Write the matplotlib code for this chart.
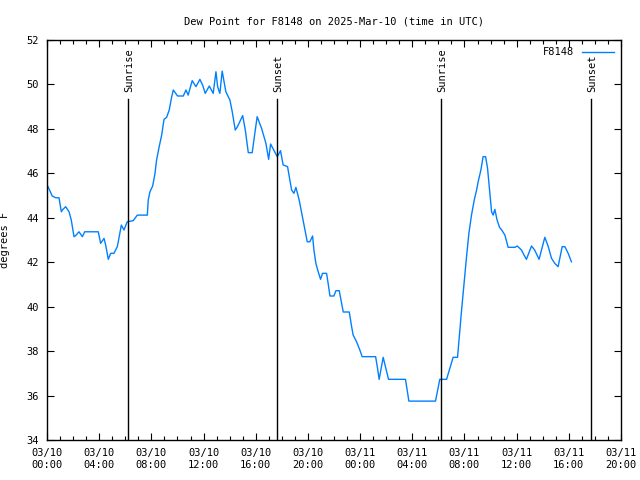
import matplotlib
matplotlib.use('Agg')
import matplotlib.pyplot as plt

# Dew point readings for F8148, hours since 2025-03-10 00:00 UTC
hours = [0.08, 0.40, 0.67, 0.92, 1.10, 1.18, 1.43, 1.69, 1.86, 2.07, 2.20, 2.45, 2.71, 2.89,
         3.93, 4.11, 4.37, 4.50, 4.70, 4.88, 5.13, 5.39, 5.70, 5.90, 6.15, 6.61, 6.92, 7.69,
         7.76, 7.89, 8.10, 8.28, 8.40, 8.60, 8.79, 8.97, 9.17, 9.37, 9.56, 9.68, 10.01, 10.45,
         10.65, 10.82, 11.13, 11.42, 11.72, 11.93, 12.13, 12.44, 12.74, 12.95, 13.08, 13.25,
         13.43, 13.71, 14.02, 14.20, 14.43, 14.60, 15.00, 15.20, 15.43, 15.73, 15.86, 16.11,
         16.45, 16.78, 16.99, 17.14, 17.65, 17.90, 18.10, 18.44, 18.75, 18.93, 19.08, 19.33,
         19.77, 19.95, 20.15, 20.36, 20.46, 20.61, 20.79, 20.97, 21.12, 21.43, 21.55, 21.69,
         21.99, 22.15, 22.40, 22.58, 22.71, 23.17, 23.35, 23.47, 23.73, 23.98, 24.16, 25.19,
         25.34, 25.46, 25.77, 25.98, 26.18, 27.48, 27.74, 29.78, 30.11, 30.63, 31.13, 31.47,
         31.57, 31.78, 31.98, 32.16, 32.34, 32.54, 32.75, 32.93, 33.05, 33.26, 33.43, 33.62,
         33.77, 33.95, 34.08, 34.20, 34.33, 34.50, 34.69, 34.89, 35.10, 35.35, 35.87, 36.05,
         36.37, 36.57, 36.75, 37.14, 37.38, 37.72, 38.16, 38.41, 38.67, 38.92, 39.18, 39.31,
         39.49, 39.70, 39.95, 40.20]
dewpoint = [45.40, 44.98, 44.90, 44.90, 44.27, 44.35, 44.50, 44.27, 43.90, 43.15, 43.20, 43.37,
            43.15, 43.37, 43.37, 42.85, 43.07, 42.77, 42.13, 42.40, 42.40, 42.70, 43.67, 43.45,
            43.82, 43.87, 44.12, 44.12, 44.80, 45.17, 45.43, 46.00, 46.60, 47.20, 47.72, 48.43,
            48.52, 48.85, 49.45, 49.75, 49.48, 49.48, 49.75, 49.52, 50.17, 49.90, 50.23, 49.97,
            49.60, 49.93, 49.60, 50.57, 49.90, 49.60, 50.60, 49.67, 49.30, 48.77, 47.95, 48.10,
            48.60, 47.95, 46.93, 46.93, 47.50, 48.55, 48.02, 47.35, 46.63, 47.32, 46.75, 47.02,
            46.38, 46.30, 45.25, 45.10, 45.37, 44.80, 43.45, 42.92, 42.92, 43.18, 42.55, 41.95,
            41.57, 41.23, 41.50, 41.50, 41.05, 40.48, 40.48, 40.72, 40.72, 40.15, 39.76, 39.76,
            39.10, 38.72, 38.42, 38.05, 37.75, 37.75, 37.22, 36.73, 37.72, 37.22, 36.73, 36.73,
            35.75, 35.75, 36.73, 36.73, 37.72, 37.72, 38.42, 39.85, 41.12, 42.25, 43.30, 44.12,
            44.80, 45.25, 45.62, 46.15, 46.75, 46.75, 46.23, 45.10, 44.27, 44.12, 44.38, 43.90,
            43.57, 43.42, 43.22, 42.67, 42.67, 42.73, 42.55, 42.32, 42.13, 42.73, 42.55, 42.13,
            43.12, 42.73, 42.18, 41.95, 41.80, 42.18, 42.70, 42.70, 42.40, 42.02]

sun_hours = [6.23, 17.65, 30.20, 41.70]
sun_labels = ['Sunrise', 'Sunset', 'Sunrise', 'Sunset']

xtick_hours = [0, 4, 8, 12, 16, 20, 24, 28, 32, 36, 40, 44]
xtick_labels = ['03/10\n00:00', '03/10\n04:00', '03/10\n08:00', '03/10\n12:00',
                '03/10\n16:00', '03/10\n20:00', '03/11\n00:00', '03/11\n04:00',
                '03/11\n08:00', '03/11\n12:00', '03/11\n16:00', '03/11\n20:00']

plt.rcParams['font.family'] = ['DejaVu Sans Mono']
plt.rcParams['font.size'] = 7.5

fig = plt.figure(figsize=(6.4, 4.8), dpi=100)
ax = fig.add_axes([47/640, 40/480, 574/640, 400/480])

ax.plot(hours, dewpoint, color='#0080ff', lw=1.0, label='F8148')

# sunrise / sunset markers, label sits just above the line
for h, lab in zip(sun_hours, sun_labels):
    ax.plot([h, h], [34, 49.35], color='black', lw=1.0)
    ax.text(h + 0.08, 49.64, lab, rotation=90, ha='center', va='bottom')

ax.set_xlim(0, 44)
ax.set_ylim(34, 52)
ax.set_xticks(xtick_hours)
ax.set_xticklabels(xtick_labels)
ax.set_xticks(range(0, 45), minor=True)
ax.set_yticks(range(34, 53, 2))

ax.tick_params(which='both', direction='in', top=True, right=True, pad=6)
ax.tick_params(which='major', length=5, width=0.8)
ax.tick_params(which='minor', length=3, width=0.8)
for s in ax.spines.values():
    s.set_linewidth(1.0)

ax.set_ylabel('degrees F')
ax.yaxis.set_label_coords(-0.065, 0.5)
ax.set_title('Dew Point for F8148 on 2025-Mar-10 (time in UTC)', fontsize=7.5, pad=11)

leg = ax.legend(loc='upper right', frameon=False, markerfirst=False,
                handlelength=3.0, borderaxespad=0.3, handletextpad=0.8)

plt.savefig('out.png', dpi=100)
